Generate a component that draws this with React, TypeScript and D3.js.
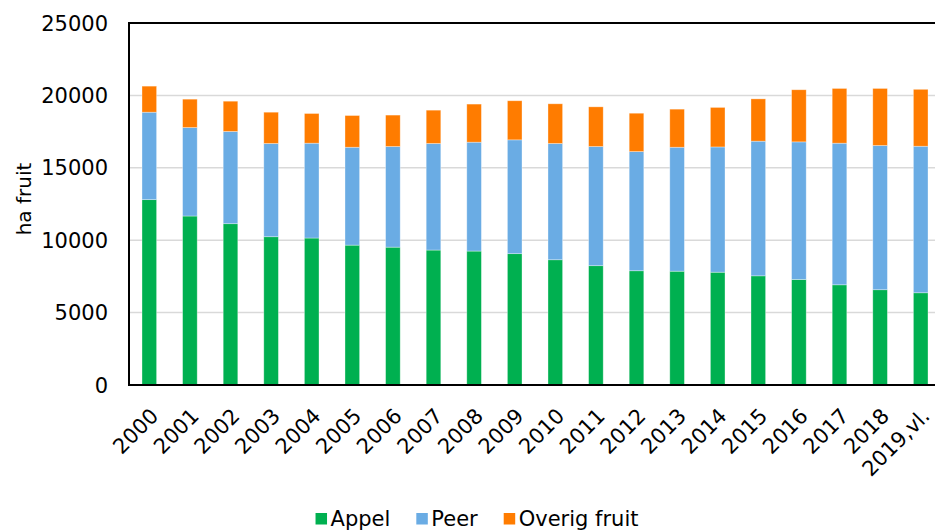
import React, { useRef, useEffect } from "react";
import * as d3 from "d3";

const years = [
  "2000", "2001", "2002", "2003", "2004", "2005", "2006", "2007", "2008", "2009",
  "2010", "2011", "2012", "2013", "2014", "2015", "2016", "2017", "2018", "2019,vl.",
];
const appel = [
  12800, 11670, 11140, 10240, 10150, 9660, 9520, 9320, 9250, 9070,
  8650, 8240, 7890, 7860, 7790, 7540, 7290, 6920, 6580, 6370,
];
const peer = [
  6040, 6110, 6370, 6440, 6550, 6760, 6950, 7360, 7520, 7860,
  8030, 8230, 8230, 8560, 8650, 9300, 9500, 9780, 9960, 10120,
];
const overig = [
  1800, 1960, 2090, 2160, 2050, 2190, 2170, 2300, 2630, 2700,
  2740, 2740, 2650, 2630, 2730, 2920, 3600, 3780, 3940, 3930,
];
const seriesNames = ["Appel", "Peer", "Overig fruit"];
const yTicks = [0, 5000, 10000, 15000, 20000, 25000];

const colors = ["#00b050", "#6aace4", "#ff7c00"];
const font = "'DejaVu Sans', Verdana, sans-serif";

const App = () => {
  const ref = useRef(null);
  const width = 935;
  const height = 531;

  useEffect(() => {
    const svg = d3.select(ref.current);
    svg.selectAll("*").remove();

    const left = 129;
    const right = 941; // plot runs off the right edge in the original
    const top = 23;
    const bottom = 385;

    const rows = years.map((y, i) => ({
      year: y,
      Appel: appel[i],
      Peer: peer[i],
      "Overig fruit": overig[i],
    }));

    const x = d3
      .scaleBand()
      .domain(years)
      .range([left, right])
      .paddingInner(0.64)
      .paddingOuter(0.32);
    const y = d3.scaleLinear().domain([0, 25000]).range([bottom, top]);

    // gridlines
    svg
      .append("g")
      .selectAll("line")
      .data(yTicks.slice(1, -1))
      .enter()
      .append("line")
      .attr("x1", left)
      .attr("x2", right)
      .attr("y1", (d) => y(d))
      .attr("y2", (d) => y(d))
      .attr("stroke", "#d9d9d9")
      .attr("stroke-width", 1.5);

    const stack = d3.stack().keys(seriesNames)(rows);
    svg
      .append("g")
      .selectAll("g")
      .data(stack)
      .enter()
      .append("g")
      .attr("fill", (d, i) => colors[i])
      .selectAll("rect")
      .data((d) => d)
      .enter()
      .append("rect")
      .attr("x", (d) => x(d.data.year))
      .attr("width", x.bandwidth())
      .attr("y", (d) => y(d[1]))
      .attr("height", (d) => y(d[0]) - y(d[1]))
      .attr("stroke", "rgba(255,255,255,0.45)")
      .attr("stroke-width", 0.75);

    // frame
    svg
      .append("rect")
      .attr("x", left)
      .attr("y", top)
      .attr("width", right - left)
      .attr("height", bottom - top)
      .attr("fill", "none")
      .attr("stroke", "#000")
      .attr("stroke-width", 2);

    // y tick labels
    svg
      .append("g")
      .selectAll("text")
      .data(yTicks)
      .enter()
      .append("text")
      .attr("x", left - 21)
      .attr("y", (d) => y(d))
      .attr("dy", "0.36em")
      .attr("text-anchor", "end")
      .style("font-family", font)
      .style("font-size", "21px")
      .attr("fill", "#000")
      .text((d) => d);

    // x labels, rotated
    svg
      .append("g")
      .selectAll("text")
      .data(years)
      .enter()
      .append("text")
      .attr(
        "transform",
        (d) => `translate(${x(d) + x.bandwidth() / 2 + 5}, ${bottom + 27}) rotate(-45)`
      )
      .attr("text-anchor", "end")
      .attr("dy", "0.36em")
      .style("font-family", font)
      .style("font-size", "21px")
      .attr("fill", "#000")
      .text((d) => d);

    // axis title
    svg
      .append("text")
      .attr("transform", `translate(31, ${(top + bottom) / 2 - 5}) rotate(-90)`)
      .attr("text-anchor", "middle")
      .style("font-family", font)
      .style("font-size", "20px")
      .attr("fill", "#000")
      .text("ha fruit");

    // legend
    const legend = svg.append("g");
    let cx = 0;
    seriesNames.forEach((name, i) => {
      const item = legend.append("g").attr("transform", `translate(${cx},0)`);
      item
        .append("rect")
        .attr("x", 0)
        .attr("y", -13)
        .attr("width", 11.5)
        .attr("height", 11.5)
        .attr("fill", colors[i]);
      const t = item
        .append("text")
        .attr("x", 15)
        .attr("y", 0)
        .style("font-family", font)
        .style("font-size", "21px")
        .attr("fill", "#000")
        .text(name);
      const w = t.node().getComputedTextLength();
      cx += 15 + w + 26;
    });
    const totalW = cx - 26;
    legend.attr("transform", `translate(${(316 + 638) / 2 - totalW / 2}, 526)`);
  }, []);

  return (
    <svg
      ref={ref}
      width={width}
      height={height}
      style={{ position: "absolute", left: 0, top: 0, background: "#fff" }}
    ></svg>
  );
};

export default App;
